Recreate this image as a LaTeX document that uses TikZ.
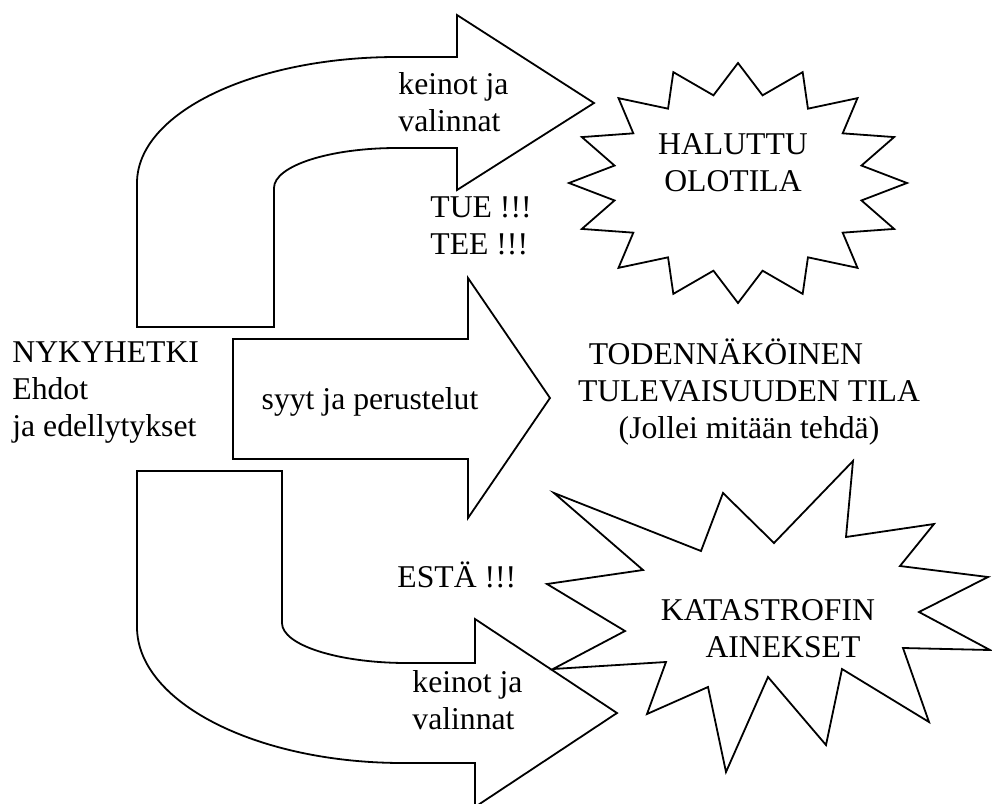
\documentclass[tikz,border=0pt]{standalone}
\usepackage{fontspec}
\setmainfont{Liberation Serif}
\tikzset{
  outline/.style={line width=0.9pt},
  txt/.style={font=\fontsize{15.85}{18.5}\selectfont, inner sep=0pt, align=left},
  txtc/.style={txt, align=center}
}
\begin{document}
\begin{tikzpicture}[x=0.5pt,y=-0.5pt]
\useasboundingbox (0,0) rectangle (992,804);
% upper bent arrow
\draw[outline] (137,327) -- (137,183) .. controls (137,113) and (253,57) .. (397,57)
  -- (457,57) -- (457,15) -- (594,103) -- (457,190) -- (457,148) -- (397,148)
  .. controls (329,148) and (274,166) .. (274,188) -- (274,327) -- cycle;
% straight arrow
\draw[outline] (233,339) -- (468,339) -- (468,278) -- (550,398) -- (468,518)
  -- (468,459) -- (233,459) -- cycle;
% lower bent arrow
\draw[outline] (137,471) -- (282,471) -- (282,623) .. controls (282,645) and (338,663) .. (407,663)
  -- (475,663) -- (475,619) -- (617,713) -- (475,807) -- (475,763) -- (403,763)
  .. controls (256,763) and (137,702) .. (137,627) -- cycle;
% seal
\draw[outline] plot[samples at={0,...,31}]
  ({738+169*(1-0.255*mod(\x,2))*cos(90-11.25*\x)},{183-120*(1-0.255*mod(\x,2))*sin(90-11.25*\x)}) -- cycle;
% explosion
\draw[outline] (554,493) -- (701,551) -- (723,493) -- (774,543) -- (853,461) -- (846,537)
  -- (934,524) -- (900,566) -- (988,577) -- (919,612) -- (990,650) -- (903,648)
  -- (929,722) -- (842,669) -- (826,745) -- (768,677) -- (726,772) -- (708,687)
  -- (647,714) -- (666,662) -- (553,669) -- (625,631) -- (547,584) -- (643,570) -- cycle;

\node[txt, anchor=west] (now) at (12,393) {NYKYHETKI\\Ehdot\\ja edellytykset};
\node[txt, anchor=west] (ways1) at (398,102) {keinot ja\\valinnat};
\node[txt, anchor=west] (support) at (430,226) {TUE !!!\\TEE !!!};
\node[txtc] (wanted) at (733,163) {HALUTTU\\OLOTILA};
\node[txt] (reasons) at (370,402) {syyt ja perustelut};
\node[txtc] (likely) at (749,392) {TODENNÄKÖINEN\hspace*{23pt}\\TULEVAISUUDEN TILA\\(Jollei mitään tehdä)};
\node[txt, anchor=base west] (prevent) at (397,587) {ESTÄ !!!};
\node[txtc] (disaster) at (768,629) {KATASTROFIN\\\hspace*{15pt}AINEKSET};
\node[txt, anchor=west] (ways2) at (412,700) {keinot ja\\valinnat};
\end{tikzpicture}
\end{document}
